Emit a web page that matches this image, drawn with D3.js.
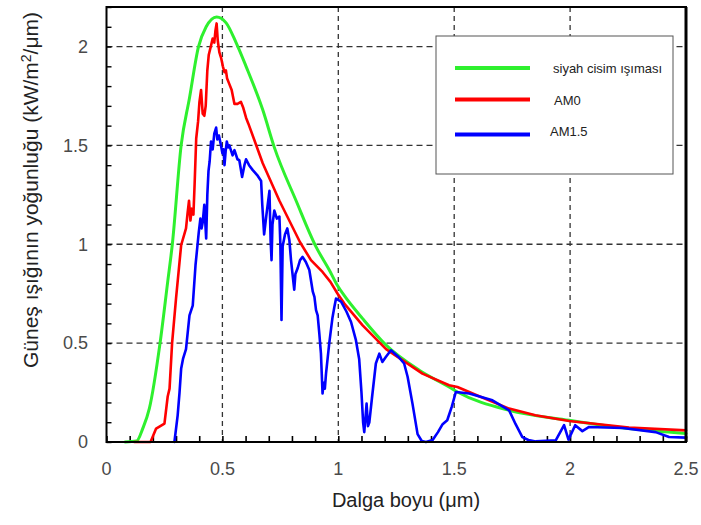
<!DOCTYPE html>
<html>
<head>
<meta charset="utf-8">
<script src="https://cdn.jsdelivr.net/npm/d3@7"></script>
<style>
  html, body { margin: 0; padding: 0; background: #fff; }
  svg { display: block; font-family: "Liberation Sans", Arial, sans-serif; }
</style>
</head>
<body>
<svg id="chart" width="701" height="525"></svg>
<script>
// ---- Data ----
const seriesNames = ["siyah cisim ışıması", "AM0", "AM1.5"];

const bbWavelength = [0.08, 0.13, 0.157, 0.185, 0.231, 0.264, 0.284, 0.322, 0.358, 0.397, 0.43, 0.475, 0.516, 0.559, 0.602, 0.674, 0.724, 0.818, 0.904, 0.961, 0.997, 1.026, 1.105, 1.206, 1.349, 1.478, 1.514, 1.737, 1.996, 2.254, 2.5];
const bbIrradiance = [0, 0.005, 0.07, 0.17, 0.5, 0.81, 1.0, 1.5, 1.74, 2.0, 2.1, 2.15, 2.12, 2.02, 1.9, 1.68, 1.49, 1.22, 0.987, 0.87, 0.79, 0.74, 0.624, 0.49, 0.363, 0.278, 0.253, 0.16, 0.11, 0.068, 0.043];

const am0Wavelength = [0.12, 0.19, 0.214, 0.25, 0.264, 0.272, 0.283, 0.3, 0.315, 0.322, 0.343, 0.35, 0.356, 0.362, 0.368, 0.375, 0.38, 0.387, 0.395, 0.401, 0.408, 0.415, 0.422, 0.428, 0.435, 0.441, 0.45, 0.458, 0.465, 0.47, 0.475, 0.48, 0.487, 0.495, 0.502, 0.509, 0.515, 0.52, 0.53, 0.54, 0.552, 0.565, 0.58, 0.59, 0.602, 0.612, 0.674, 0.746, 0.835, 0.882, 0.932, 0.966, 0.997, 1.026, 1.105, 1.206, 1.363, 1.478, 1.514, 1.6, 1.737, 1.85, 1.996, 2.254, 2.5];
const am0Irradiance = [0, 0, 0.068, 0.093, 0.23, 0.27, 0.5, 0.726, 0.91, 0.995, 1.08, 1.16, 1.22, 1.12, 1.18, 1.15, 1.3, 1.535, 1.62, 1.72, 1.78, 1.66, 1.65, 1.7, 1.88, 1.957, 2.0, 2.04, 2.02, 2.08, 2.117, 2.03, 1.97, 1.94, 1.9, 1.87, 1.88, 1.84, 1.81, 1.78, 1.71, 1.71, 1.72, 1.69, 1.64, 1.61, 1.41, 1.22, 1.01, 0.92, 0.86, 0.81, 0.75, 0.70, 0.59, 0.47, 0.346, 0.287, 0.278, 0.235, 0.169, 0.135, 0.106, 0.073, 0.059];

const am15Wavelength = [0.293, 0.307, 0.315, 0.322, 0.33, 0.343, 0.358, 0.372, 0.384, 0.398, 0.405, 0.41, 0.415, 0.422, 0.43, 0.435, 0.44, 0.445, 0.451, 0.458, 0.465, 0.473, 0.478, 0.485, 0.494, 0.5, 0.505, 0.509, 0.514, 0.519, 0.525, 0.53, 0.544, 0.552, 0.565, 0.573, 0.585, 0.595, 0.602, 0.615, 0.631, 0.65, 0.667, 0.672, 0.68, 0.69, 0.703, 0.708, 0.712, 0.716, 0.724, 0.735, 0.746, 0.75, 0.755, 0.76, 0.77, 0.78, 0.789, 0.796, 0.81, 0.815, 0.825, 0.835, 0.846, 0.86, 0.875, 0.89, 0.897, 0.904, 0.911, 0.918, 0.925, 0.932, 0.937, 0.942, 0.947, 0.961, 0.975, 0.983, 0.99, 1.012, 1.035, 1.055, 1.076, 1.09, 1.1, 1.107, 1.112, 1.117, 1.122, 1.128, 1.134, 1.145, 1.162, 1.177, 1.19, 1.205, 1.227, 1.26, 1.284, 1.299, 1.32, 1.342, 1.36, 1.378, 1.407, 1.43, 1.45, 1.47, 1.49, 1.507, 1.565, 1.665, 1.737, 1.765, 1.794, 1.82, 1.852, 1.938, 1.974, 1.993, 2.022, 2.053, 2.082, 2.226, 2.369, 2.427, 2.5];
const am15Irradiance = [0, 0.135, 0.25, 0.37, 0.42, 0.47, 0.64, 0.69, 0.894, 1.06, 1.13, 1.08, 1.11, 1.2, 1.03, 1.25, 1.37, 1.42, 1.52, 1.48, 1.56, 1.59, 1.53, 1.55, 1.5, 1.46, 1.48, 1.4, 1.47, 1.52, 1.49, 1.5, 1.45, 1.476, 1.43, 1.425, 1.34, 1.4, 1.43, 1.4, 1.375, 1.35, 1.32, 1.2, 1.05, 1.15, 1.27, 1.02, 0.92, 1.1, 1.17, 1.13, 1.14, 1.0, 0.617, 0.99, 1.05, 1.08, 1.02, 0.92, 0.77, 0.85, 0.88, 0.92, 0.936, 0.91, 0.87, 0.76, 0.734, 0.667, 0.64, 0.55, 0.45, 0.245, 0.3, 0.27, 0.346, 0.5, 0.63, 0.683, 0.725, 0.71, 0.66, 0.607, 0.515, 0.42, 0.25, 0.1, 0.05, 0.12, 0.194, 0.08, 0.1, 0.22, 0.397, 0.447, 0.405, 0.43, 0.464, 0.43, 0.397, 0.33, 0.194, 0.04, 0.005, 0, 0.01, 0.05, 0.09, 0.11, 0.18, 0.253, 0.245, 0.211, 0.16, 0.09, 0.025, 0.01, 0.003, 0.008, 0.085, 0.012, 0.085, 0.055, 0.076, 0.071, 0.05, 0.025, 0.022];

const xTickValues = [0, 0.5, 1, 1.5, 2, 2.5];
const xTickLabels = ["0", "0.5", "1", "1.5", "2", "2.5"];
const yTickValues = [0, 0.5, 1, 1.5, 2];
const yTickLabels = ["0", "0.5", "1", "1.5", "2"];
const seriesColors = ["#2ef02e", "#ff0000", "#0000ff"];

(function draw() {
  const svg = d3.select("#chart");
  const pL = 106.5, pR = 686, pT = 7, pB = 442;
  const x = d3.scaleLinear().domain([0, 2.5]).range([pL, pR]);
  const y = d3.scaleLinear().domain([0, 2.2]).range([pB, pT]);

  // Grid lines
  const grid = svg.append("g");
  grid.selectAll("line.vg").data(xTickValues.slice(1, -1)).enter().append("line")
    .attr("x1", d => x(d)).attr("x2", d => x(d)).attr("y1", pT).attr("y2", pB)
    .attr("stroke", "#333").attr("stroke-width", 1.3).attr("stroke-dasharray", "5,4");
  grid.selectAll("line.hg").data(yTickValues.slice(1)).enter().append("line")
    .attr("x1", pL).attr("x2", pR).attr("y1", d => y(d)).attr("y2", d => y(d))
    .attr("stroke", "#333").attr("stroke-width", 1.3).attr("stroke-dasharray", "6,4");

  // Minor ticks (inward)
  const xAxis = d3.axisTop(x).tickValues(d3.range(0, 26).map(i => i / 10)).tickSize(6).tickFormat("");
  const gx = svg.append("g").attr("transform", `translate(0,${pB})`).call(xAxis);
  gx.select(".domain").remove();
  gx.selectAll("line").attr("stroke", "#000").attr("stroke-width", 1.6);

  const yAxis = d3.axisRight(y).tickValues(d3.range(0, 23).map(i => i / 10)).tickSize(5).tickFormat("");
  const gy = svg.append("g").attr("transform", `translate(${pL},0)`).call(yAxis);
  gy.select(".domain").remove();
  gy.selectAll("line").attr("stroke", "#000").attr("stroke-width", 1.4);

  // Tick labels
  svg.append("g").selectAll("text").data(xTickValues).enter().append("text")
    .attr("x", d => x(d)).attr("y", 475).attr("text-anchor", "middle")
    .attr("font-size", 18).attr("fill", "#4a4a4a")
    .text((d, i) => xTickLabels[i]);
  svg.append("g").selectAll("text").data(yTickValues).enter().append("text")
    .attr("x", 88).attr("y", d => y(d)).attr("dy", "0.35em").attr("text-anchor", "end")
    .attr("font-size", 18).attr("fill", "#4a4a4a")
    .text((d, i) => yTickLabels[i]);

  // Lines
  const datasets = [
    { xs: bbWavelength, ys: bbIrradiance, curve: d3.curveMonotoneX, w: 3 },
    { xs: am0Wavelength, ys: am0Irradiance, curve: d3.curveLinear, w: 2.6 },
    { xs: am15Wavelength, ys: am15Irradiance, curve: d3.curveLinear, w: 2.6 }
  ];
  datasets.forEach((ds, i) => {
    const pts = ds.xs.map((v, k) => [v, ds.ys[k]]);
    const line = d3.line().x(d => x(d[0])).y(d => y(d[1])).curve(ds.curve);
    svg.append("path").datum(pts).attr("d", line)
      .attr("fill", "none").attr("stroke", seriesColors[i])
      .attr("stroke-width", ds.w).attr("stroke-linejoin", "round").attr("stroke-linecap", "round");
  });

  // Frame
  svg.append("rect").attr("x", pL).attr("y", pT).attr("width", pR - pL).attr("height", pB - pT)
    .attr("fill", "none").attr("stroke", "#000").attr("stroke-width", 2);
  svg.append("line").attr("x1", pR).attr("x2", pR).attr("y1", pT).attr("y2", pB)
    .attr("stroke", "#000").attr("stroke-width", 3);

  // Legend
  const lg = svg.append("g");
  lg.append("rect").attr("x", 436).attr("y", 36).attr("width", 237).attr("height", 138)
    .attr("fill", "#fff").attr("stroke", "#555").attr("stroke-width", 1);
  const legY = [68, 99.5, 134.5];
  const legTextX = [553, 554, 550];
  const legTextY = [73, 105, 136];
  seriesNames.forEach((name, i) => {
    lg.append("line").attr("x1", 455).attr("x2", 530).attr("y1", legY[i]).attr("y2", legY[i])
      .attr("stroke", seriesColors[i]).attr("stroke-width", 4);
    lg.append("text").attr("x", legTextX[i]).attr("y", legTextY[i])
      .attr("font-size", 13).attr("fill", "#222").text(name);
  });

  // Axis titles
  svg.append("text").attr("x", 406).attr("y", 507).attr("text-anchor", "middle")
    .attr("font-size", 20).attr("fill", "#222").text("Dalga boyu (μm)");
  const yt = svg.append("text").attr("transform", "translate(38,190) rotate(-90)")
    .attr("text-anchor", "middle").attr("font-size", 21).attr("fill", "#222");
  yt.append("tspan").text("Güneş ışığının yoğunluğu (kW/m");
  yt.append("tspan").attr("font-size", 14).attr("dy", "-7").text("2");
  yt.append("tspan").attr("dy", "7").text("/μm)");
})();
</script>
</body>
</html>
